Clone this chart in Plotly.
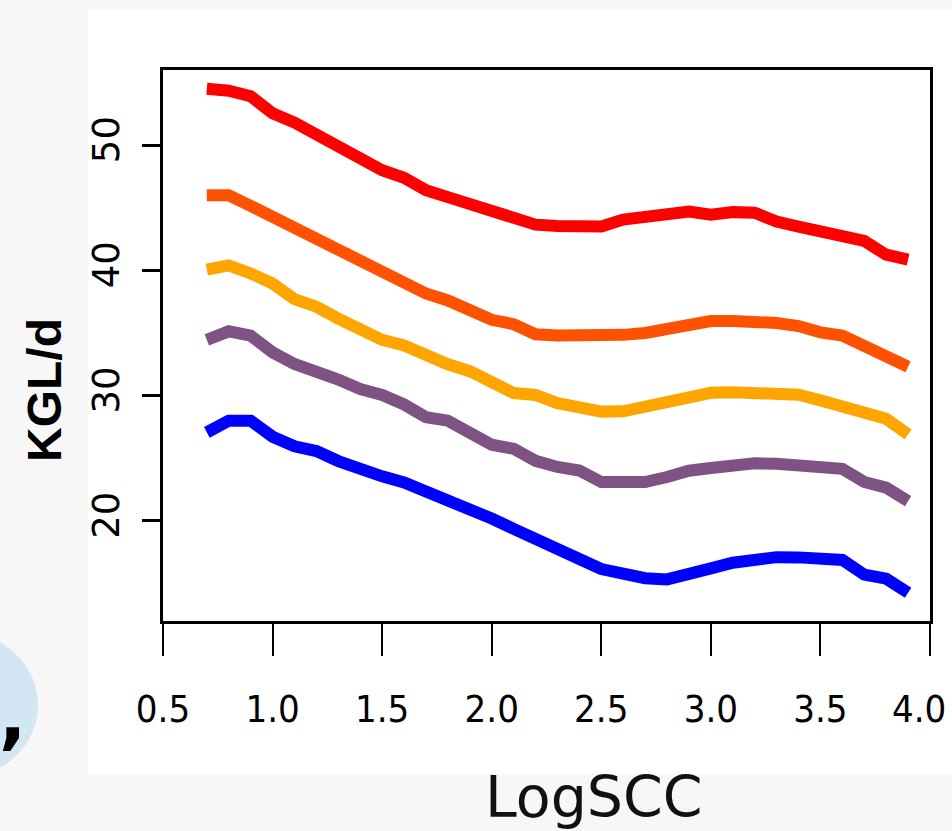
import plotly.graph_objects as go

# ---- data ----
log_scc = [0.7, 0.8, 0.9, 1.0, 1.1, 1.2, 1.3, 1.4, 1.5, 1.6, 1.7, 1.8, 1.9, 2.0, 2.1, 2.2, 2.3,
           2.4, 2.5, 2.6, 2.7, 2.8, 2.9, 3.0, 3.1, 3.2, 3.3, 3.4, 3.5, 3.6, 3.7, 3.8, 3.9]

kgl_red = [54.5, 54.35, 53.9, 52.55, 51.8, 50.85, 49.85, 48.9, 48.0, 47.4, 46.4, 45.85, 45.25, 44.6,
           44.1, 43.65, 43.55, 43.5, 43.5, 44.05, 44.2, 44.4, 44.7, 44.45, 44.65, 44.6, 43.9, 43.5,
           43.05, 42.8, 42.35, 41.25, 40.85]
kgl_orangered = [46.0, 46.0, 45.15, 44.25, 43.45, 42.5, 41.6, 40.65, 39.85, 39.1, 38.15, 37.6, 36.9,
                 36.05, 35.7, 34.9, 34.8, 34.8, 34.75, 34.85, 35.0, 35.3, 35.75, 35.95, 35.95, 35.95,
                 35.8, 35.55, 35.05, 34.8, 34.0, 33.15, 32.3]
kgl_orange = [40.05, 40.4, 39.75, 38.95, 37.7, 37.1, 36.15, 35.3, 34.45, 34.0, 33.2, 32.5, 31.95, 31.1,
              30.2, 30.05, 29.4, 29.05, 28.72, 28.74, 29.1, 29.4, 29.97, 30.22, 30.27, 30.25, 30.08,
              30.07, 29.62, 29.12, 28.45, 28.15, 26.9]
kgl_purple = [34.45, 35.13, 34.78, 33.45, 32.52, 32.0, 31.28, 30.53, 30.05, 29.29, 28.28, 28.0, 27.04,
              26.08, 25.75, 24.79, 24.3, 24.02, 23.1, 23.1, 23.1, 23.5, 24.0, 24.22, 24.42, 24.6,
              24.55, 24.4, 24.26, 24.15, 23.1, 22.65, 21.58]
kgl_blue = [27.06, 28.0, 28.0, 26.72, 25.95, 25.57, 24.77, 24.06, 23.55, 23.06, 22.38, 21.77, 21.06,
            20.18, 19.36, 18.48, 17.85, 16.95, 16.15, 15.7, 15.42, 15.32, 15.68, 16.2, 16.65, 16.92,
            17.1, 17.08, 16.94, 16.88, 15.7, 15.38, 14.25]

series = [kgl_red, kgl_orangered, kgl_orange, kgl_purple, kgl_blue]
colors = ["#ff0000", "#ff5200", "#ffa500", "#7e5282", "#0000ff"]

x_ticks = [0.5, 1.0, 1.5, 2.0, 2.5, 3.0, 3.5, 4.0]
x_tick_text = ["0.5", "1.0", "1.5", "2.0", "2.5", "3.0", "3.5", "4.0\u00a0\u00a0"]
y_ticks = [20, 30, 40, 50]
y_tick_text = ["20", "30", "40", "50"]

fig = go.Figure()
for ys, c in zip(series, colors):
    fig.add_trace(go.Scatter(x=log_scc, y=ys, mode="lines",
                             line=dict(color=c, width=12), showlegend=False, hoverinfo="skip"))

W, H = 952, 831
L, R, T, B = 163, 22, 70, 210
pw, ph = W - L - R, H - T - B

def px(xp):
    return (xp - L) / pw

def py(yp):
    return (H - B - yp) / ph

shapes = [
    # white panel behind the chart
    dict(type="rect", xref="paper", yref="paper", x0=px(88), x1=px(960), y0=py(774), y1=py(10),
         fillcolor="white", line=dict(width=0), layer="below"),
    # light blue blob at lower left
    dict(type="circle", xref="paper", yref="paper", x0=px(-118), x1=px(38), y0=py(778), y1=py(632),
         fillcolor="#d3e6f4", line=dict(width=0), layer="below"),
]

annotations = [
    dict(text="KGL/d", xref="paper", yref="paper", x=px(45), y=py(390), showarrow=False,
         textangle=-90, xanchor="center", yanchor="middle",
         font=dict(family="Liberation Sans, Arial, sans-serif", size=48, color="black", weight="bold")),
    dict(text="LogSCC", xref="paper", yref="paper", x=px(594), y=py(797), showarrow=False,
         xanchor="center", yanchor="middle",
         font=dict(family="DejaVu Sans, sans-serif", size=57, color="#111111")),
    dict(text=",", xref="paper", yref="paper", x=px(12), y=py(716), showarrow=False,
         xanchor="center", yanchor="middle",
         font=dict(family="DejaVu Sans, sans-serif", size=72, color="black", weight="bold")),
]

fig.update_layout(
    width=W, height=H,
    margin=dict(l=L, r=R, t=T, b=B, pad=0, autoexpand=False),
    paper_bgcolor="#f7f7f7",
    plot_bgcolor="white",
    shapes=shapes,
    annotations=annotations,
    xaxis=dict(range=[0.5, 4.0], tickmode="array", tickvals=x_ticks, ticktext=x_tick_text,
               ticks="outside", ticklen=32, tickwidth=2, tickcolor="black",
               showline=True, linecolor="black", linewidth=3, mirror=True, automargin=False,
               showgrid=False, zeroline=False, ticklabelstandoff=20, ticklabeloverflow="allow",
               tickfont=dict(family="DejaVu Sans Condensed, Liberation Sans Narrow, sans-serif",
                             size=38, color="black")),
    yaxis=dict(range=[12, 56], tickmode="array", tickvals=y_ticks, ticktext=y_tick_text,
               ticks="outside", ticklen=18, tickwidth=3, tickcolor="black", tickangle=-90,
               showline=True, linecolor="black", linewidth=3, mirror=True, automargin=False,
               showgrid=False, zeroline=False, ticklabelstandoff=8,
               tickfont=dict(family="DejaVu Sans, sans-serif", size=37, color="black")),
)

fig.write_html("out.html")
